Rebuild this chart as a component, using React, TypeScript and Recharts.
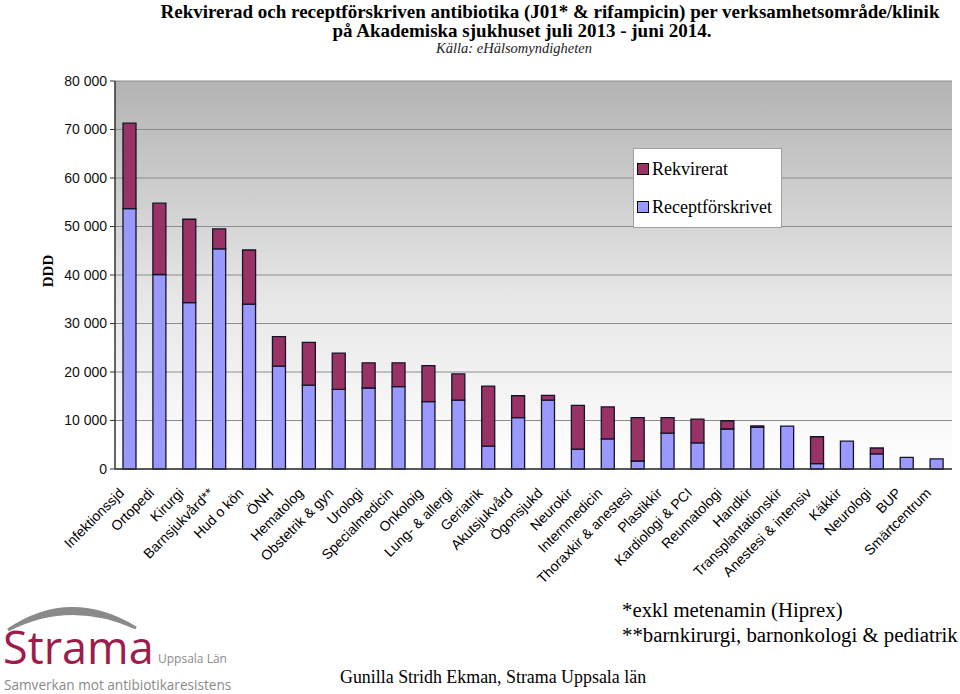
import React from "react";
import {
  BarChart,
  Bar,
  XAxis,
  YAxis,
  CartesianGrid,
  Legend,
} from "recharts";

const categories = [
  "Infektionssjd",
  "Ortopedi",
  "Kirurgi",
  "Barnsjukvård**",
  "Hud o kön",
  "ÖNH",
  "Hematolog",
  "Obstetrik & gyn",
  "Urologi",
  "Specialmedicin",
  "Onkoloig",
  "Lung- & allergi",
  "Geriatrik",
  "Akutsjukvård",
  "Ögonsjukd",
  "Neurokir",
  "Internmedicin",
  "Thoraxkir & anestesi",
  "Plastikkir",
  "Kardiologi & PCI",
  "Reumatologi",
  "Handkir",
  "Transplantationskir",
  "Anestesi & intensiv",
  "Käkkir",
  "Neurologi",
  "BUP",
  "Smärtcentrum",
];

const receptforskrivet = [
  53700, 40100, 34300, 45400, 34000, 21200, 17300, 16400, 16700, 17000, 13900,
  14200, 4700, 10600, 14200, 4100, 6200, 1650, 7400, 5400, 8250, 8600, 8850,
  1100, 5750, 3100, 2400, 2100,
];

const rekvirerat = [
  17600, 14700, 17200, 4100, 11150, 6100, 8800, 7500, 5200, 4900, 7400, 5400,
  12400, 4500, 1000, 9000, 6600, 8950, 3200, 4900, 1700, 300, 0, 5550, 0, 1230,
  0, 0,
];

const yTicks = [0, 10000, 20000, 30000, 40000, 50000, 60000, 70000, 80000];

const titleLine1 =
  "Rekvirerad och receptförskriven antibiotika (J01* & rifampicin) per verksamhetsområde/klinik";
const titleLine2 = "på Akademiska sjukhuset juli 2013 - juni 2014.";
const sourceText = "Källa: eHälsomyndigheten";
const yLabel = "DDD";
const footnote1 = "*exkl metenamin (Hiprex)";
const footnote2 = "**barnkirurgi, barnonkologi & pediatrik";
const author = "Gunilla Stridh Ekman, Strama Uppsala län";

const COLOR_RECEPT = "#9999ff";
const COLOR_REKV = "#993366";

const data = categories.map((name, i) => ({
  name,
  Receptförskrivet: receptforskrivet[i],
  Rekvirerat: rekvirerat[i],
}));

const fmt = (v: number) =>
  v === 0 ? "0" : String(v).replace(/\B(?=(\d{3})+(?!\d))/g, " ");

const XTick = (props: any) => {
  const { x, y, payload } = props;
  return (
    <g transform={`translate(${x - 5},${y + 17})`}>
      <text
        x={0}
        y={0}
        textAnchor="end"
        transform="rotate(-45)"
        fontFamily="'Liberation Sans', Arial, sans-serif"
        fontSize={14}
        fill="#000"
      >
        {payload.value}
      </text>
    </g>
  );
};

const LegendBox = () => {
  const items = [
    { label: "Rekvirerat", color: COLOR_REKV },
    { label: "Receptförskrivet", color: COLOR_RECEPT },
  ];
  return (
    <div
      style={{
        width: 149,
        height: 80,
        background: "#fff",
        border: "1px solid #a0a0a0",
        boxSizing: "border-box",
        position: "relative",
      }}
    >
      {items.map((it, i) => (
        <div
          key={it.label}
          style={{
            position: "absolute",
            left: 3,
            top: 9 + i * 38,
            display: "flex",
            alignItems: "center",
            fontFamily: "'Liberation Serif', 'Times New Roman', serif",
            fontSize: 18,
            lineHeight: "22px",
            color: "#000",
            whiteSpace: "nowrap",
          }}
        >
          <span
            style={{
              display: "inline-block",
              width: 12,
              height: 12,
              background: it.color,
              border: "1px solid #000",
              marginRight: 3,
              boxSizing: "border-box",
            }}
          />
          {it.label}
        </div>
      ))}
    </div>
  );
};

export default function App() {
  return (
    <div
      style={{
        position: "absolute",
        left: 0,
        top: 0,
        width: 960,
        height: 694,
        background: "#fff",
        overflow: "hidden",
      }}
    >
      <div style={{ position: "absolute", left: 0, top: 0 }}>
        <BarChart
          width={960}
          height={694}
          data={data}
          margin={{ top: 81, right: 8, left: 0, bottom: 105 }}
          barSize={13}
        >
          <defs>
            <linearGradient id="plotBg" x1="0" y1="0" x2="0" y2="1">
              <stop offset="0%" stopColor="#b3b3b3" />
              <stop offset="55%" stopColor="#e6e6e6" />
              <stop offset="100%" stopColor="#ffffff" />
            </linearGradient>
          </defs>
          <CartesianGrid
            vertical={false}
            stroke="#8c8c8c"
            strokeWidth={1}
            fill="url(#plotBg)"
            fillOpacity={1}
          />
          <XAxis
            dataKey="name"
            interval={0}
            height={120}
            tick={<XTick />}
            tickLine={false}
            axisLine={{ stroke: "#333", strokeWidth: 1.5 }}
          />
          <YAxis
            width={115}
            domain={[0, 80000]}
            ticks={yTicks}
            tickFormatter={fmt}
            tickSize={5}
            tickMargin={3}
            axisLine={{ stroke: "#333", strokeWidth: 1.5 }}
            tickLine={{ stroke: "#333" }}
            tick={{
              fill: "#111",
              fontSize: 14,
              fontFamily: "'Liberation Sans', Arial, sans-serif",
            }}
          />
          <YAxis
            yAxisId="r"
            orientation="right"
            width={0}
            tick={false}
            tickLine={false}
            axisLine={{ stroke: "#999" }}
          />
          <Legend
            layout="horizontal"
            verticalAlign="middle"
            content={<LegendBox />}
            wrapperStyle={{ left: 633, top: 148, width: 149, height: 80 }}
          />
          <Bar
            dataKey="Receptförskrivet"
            stackId="a"
            fill={COLOR_RECEPT}
            stroke="#141428"
            strokeWidth={1.3}
            isAnimationActive={false}
          />
          <Bar
            dataKey="Rekvirerat"
            stackId="a"
            fill={COLOR_REKV}
            stroke="#141428"
            strokeWidth={1.3}
            isAnimationActive={false}
          />
        </BarChart>
      </div>
      <svg
        width={960}
        height={694}
        style={{ position: "absolute", left: 0, top: 0, pointerEvents: "none" }}
      >
        <text
          x={550}
          y={18}
          textAnchor="middle"
          fontFamily="'Liberation Serif', 'Times New Roman', serif"
          fontWeight="bold"
          fontSize={19}
          fill="#000"
        >
          {titleLine1}
        </text>
        <text
          x={522}
          y={37}
          textAnchor="middle"
          fontFamily="'Liberation Serif', 'Times New Roman', serif"
          fontWeight="bold"
          fontSize={19}
          fill="#000"
        >
          {titleLine2}
        </text>
        <text
          x={514}
          y={53}
          textAnchor="middle"
          fontFamily="'Liberation Serif', 'Times New Roman', serif"
          fontStyle="italic"
          fontSize={14.5}
          fill="#222"
        >
          {sourceText}
        </text>
        <text
          x={0}
          y={0}
          transform="translate(53,271) rotate(-90)"
          textAnchor="middle"
          fontFamily="'Liberation Serif', 'Times New Roman', serif"
          fontWeight="bold"
          fontSize={15}
          fill="#000"
        >
          {yLabel}
        </text>

        {/* Strama logo */}
        <path
          d="M 8 630 Q 70 588 136 628 Q 70 598 8 630 Z"
          fill="#8a8a8a"
          stroke="#8a8a8a"
          strokeWidth={3}
        />
        <text
          x={3}
          y={664}
          fontFamily="'Open Sans', 'DejaVu Sans', sans-serif"
          fontSize={45}
          fill="#9e1c4b"
          letterSpacing={0}
        >
          Strama
        </text>
        <text
          x={158}
          y={663}
          fontFamily="'Open Sans', 'DejaVu Sans', sans-serif"
          fontSize={12}
          fill="#8a8a8a"
        >
          Uppsala Län
        </text>
        <text
          x={4}
          y={690}
          fontFamily="'Open Sans', 'DejaVu Sans', sans-serif"
          fontSize={13.6}
          fill="#8a8a8a"
        >
          Samverkan mot antibiotikaresistens
        </text>

        <text
          x={622}
          y={617}
          fontFamily="'Liberation Serif', 'Times New Roman', serif"
          fontSize={20.8}
          fill="#000"
        >
          {footnote1}
        </text>
        <text
          x={622}
          y={642}
          fontFamily="'Liberation Serif', 'Times New Roman', serif"
          fontSize={20.8}
          fill="#000"
        >
          {footnote2}
        </text>
        <text
          x={340}
          y={683}
          fontFamily="'Liberation Serif', 'Times New Roman', serif"
          fontSize={17.9}
          fill="#000"
        >
          {author}
        </text>
      </svg>
    </div>
  );
}
